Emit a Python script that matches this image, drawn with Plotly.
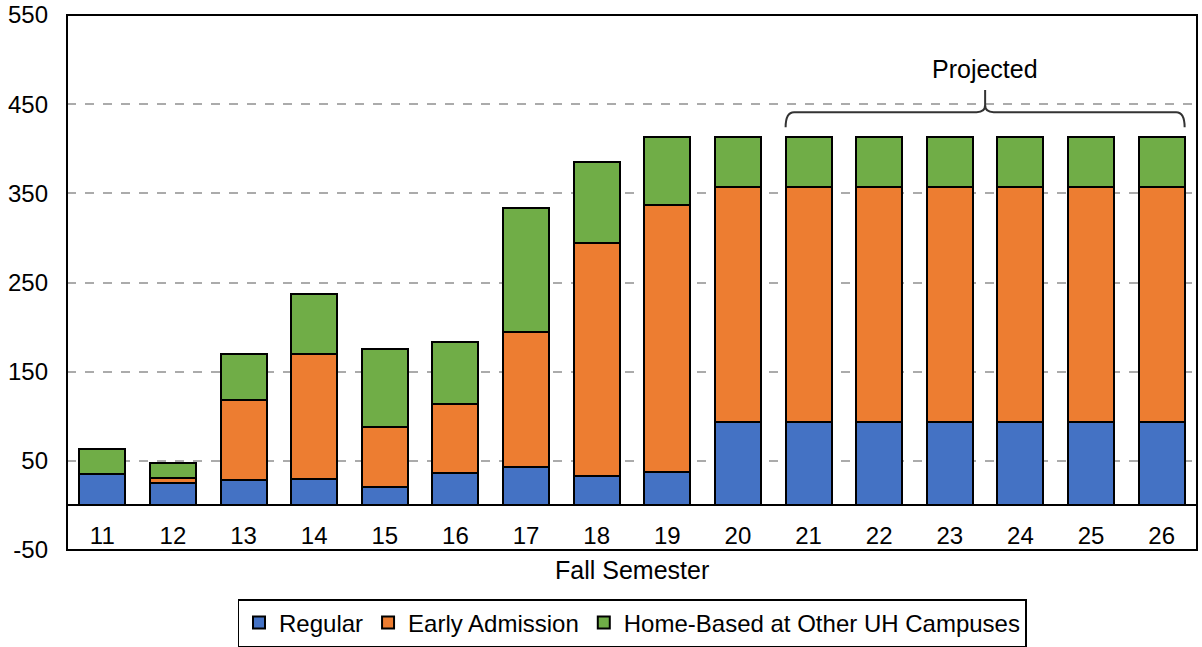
import plotly.graph_objects as go

semesters = [11, 12, 13, 14, 15, 16, 17, 18, 19, 20, 21, 22, 23, 24, 25, 26]
regular = [35, 25, 28, 30, 21, 36, 43, 33, 37, 94, 94, 94, 94, 94, 94, 94]
early_admission = [0, 6, 90, 140, 67, 78, 152, 261, 300, 263, 263, 263, 263, 263, 263, 263]
home_based = [28, 17, 52, 67, 87, 69, 139, 91, 76, 56, 56, 56, 56, 56, 56, 56]
series_names = ["Regular", "Early Admission", "Home-Based at Other UH Campuses"]
colors = ["#4472C4", "#ED7D31", "#70AD47"]
y_ticks = [-50, 50, 150, 250, 350, 450, 550]
projected_start, projected_end = 21, 26

FONT = "Liberation Sans, Arial, sans-serif"
fig = go.Figure()
for name, vals, col in zip(series_names, [regular, early_admission, home_based], colors):
    fig.add_trace(go.Bar(
        x=semesters, y=vals, name=name, width=0.65,
        marker=dict(color=col, line=dict(color="black", width=2)),
    ))

fig.update_layout(
    barmode="stack",
    width=1202, height=647,
    margin=dict(l=67, r=5, t=15, b=97),
    plot_bgcolor="white", paper_bgcolor="white",
    font=dict(family=FONT, size=24, color="black"),
    showlegend=True,
    legend=dict(orientation="h", x=0.5, xanchor="center", xref="paper",
                y=(647 - 599) / 647, yanchor="top", yref="container",
                bordercolor="black", borderwidth=1.5, font=dict(size=24),
                traceorder="normal", itemwidth=30, tracegroupgap=0),
    xaxis=dict(range=[10.5, 26.5], tickvals=semesters, ticktext=[str(s) for s in semesters],
               anchor="free", position=50 / 600, showline=False, showgrid=False,
               zeroline=False, ticks="outside", ticklen=9, tickcolor="rgba(0,0,0,0)",
               tickfont=dict(size=24), automargin=False),
    yaxis=dict(range=[-50, 550], tickvals=y_ticks, ticktext=[str(v) for v in y_ticks],
               showgrid=True, gridcolor="#ABABAB",
               griddash="dash", gridwidth=1.5, zeroline=True, zerolinecolor="black",
               zerolinewidth=1.5, showline=False, ticks="", ticklabelstandoff=18,
               tickfont=dict(size=24), automargin=False),
)

# plot-area border
fig.add_shape(type="rect", xref="paper", yref="paper", x0=0, x1=1, y0=0, y1=1,
              line=dict(color="black", width=2), layer="above")

# x-axis title
fig.add_annotation(text="Fall Semester", xref="paper", yref="paper", x=0.5, y=-0.037,
                   xanchor="center", yanchor="middle", showarrow=False, font=dict(size=25))

# projected bracket
x0 = projected_start - 0.325
x1 = projected_end + 0.325
xm = (x0 + x1) / 2
yb, yh, yt = 424, 441, 466
r = 0.12
path = (f"M {x0},{yb} Q {x0},{yh} {x0 + r},{yh} L {xm - r},{yh} Q {xm},{yh} {xm},{yh + 8} "
        f"L {xm},{yt} M {xm},{yh + 8} Q {xm},{yh} {xm + r},{yh} L {x1 - r},{yh} "
        f"Q {x1},{yh} {x1},{yb}")
fig.add_shape(type="path", path=path, xref="x", yref="y",
              line=dict(color="#333333", width=2), layer="above")
fig.add_annotation(text="Projected", x=xm, y=490, xref="x", yref="y", showarrow=False,
                   font=dict(size=25), xanchor="center", yanchor="middle")

fig.write_html("out.html", config={"displayModeBar": False},
               post_script="document.body.style.margin='0';")
